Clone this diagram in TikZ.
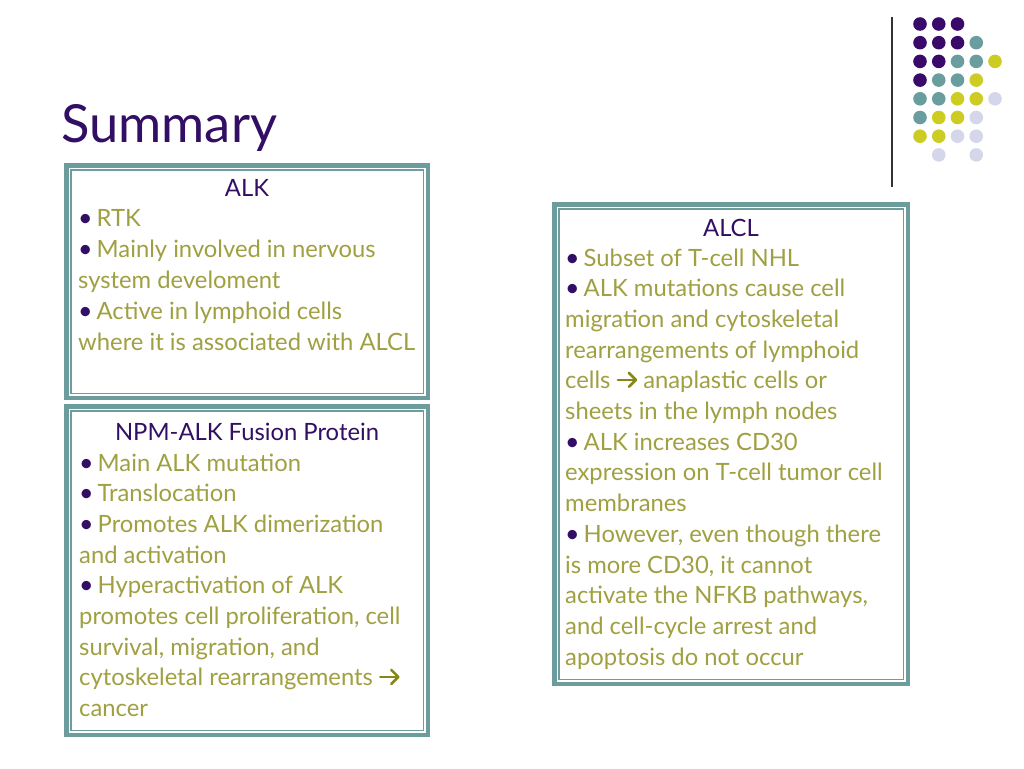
\documentclass[tikz,border=0pt]{standalone}
\usepackage{fontspec}
\setmainfont{Lato}
\usepackage{tikz}
\usetikzlibrary{calc}

\definecolor{slidepurple}{RGB}{50,15,100}
\definecolor{slideteal}{RGB}{108,156,156}
\definecolor{slideolive}{RGB}{160,160,66}
\definecolor{arrowolive}{RGB}{135,135,20}
\definecolor{dotpurple}{RGB}{58,10,106}
\definecolor{dotteal}{RGB}{106,158,158}
\definecolor{dotyellow}{RGB}{204,204,34}
\definecolor{dotlilac}{RGB}{214,214,234}

\newcommand{\bul}{\textcolor{slidepurple}{\scalebox{1.05}{\textbullet}}\hspace{4pt}}
\newcommand{\arr}{\tikz[x=1pt,y=1pt,baseline=0pt,line width=2.6pt,arrowolive,line cap=round,line join=round]
  {\draw (1,9) -- (19,9); \draw (12,2) -- (19,9) -- (12,16);}}

\tikzset{
  panel/.style={draw=slideteal, line width=4.5pt, fill=white, anchor=north west, inner sep=0pt, outer sep=0pt},
  panelline/.style={draw=slideteal, line width=1.3pt},
  boxtitle/.style={anchor=base, inner sep=0pt, text=slidepurple, font=\fontsize{23.8}{28}\selectfont},
  boxline/.style={anchor=base west, inner sep=0pt, text=slideolive, font=\fontsize{23.8}{28}\selectfont}
}

\begin{document}
\begin{tikzpicture}[x=1pt,y=-1pt]
\useasboundingbox (0,0) rectangle (1024,768);

% title
\node[anchor=base west, inner sep=0pt, text=slidepurple, font=\fontsize{52.5}{60}\selectfont] (title) at (61,142) {Summary};

% corner dots
\draw[line width=1.2pt, black!80] (892,17) -- (892,187);
\foreach \row/\lst in {1/{1/dotpurple,2/dotpurple,3/dotpurple},
                       2/{1/dotpurple,2/dotpurple,3/dotpurple,4/dotteal},
                       3/{1/dotpurple,2/dotpurple,3/dotteal,4/dotteal,5/dotyellow},
                       4/{1/dotpurple,2/dotteal,3/dotteal,4/dotyellow},
                       5/{1/dotteal,2/dotteal,3/dotyellow,4/dotyellow,5/dotlilac},
                       6/{1/dotteal,2/dotyellow,3/dotyellow,4/dotlilac},
                       7/{1/dotyellow,2/dotyellow,3/dotlilac,4/dotlilac},
                       8/{2/dotlilac,4/dotlilac}}
  \foreach \col/\c in \lst
    \fill[\c] ({920+18.75*(\col-1)},{24+18.7*(\row-1)}) circle (6.8);

% boxes
\node[panel, minimum width=361.5pt, minimum height=232.5pt] (alk) at (66.25,165.25) {};
\node[panel, minimum width=361.5pt, minimum height=328.5pt] (npm) at (66.25,406.25) {};
\node[panel, minimum width=353.5pt, minimum height=479.5pt] (alcl) at (554.25,204.25) {};
\foreach \b in {alk,npm,alcl}
  \draw[panelline] ([shift={(4.6,4.6)}]\b.north west) rectangle ([shift={(-4.6,-4.6)}]\b.south east);

% ALK
\node[boxtitle] (alkT) at (247,196) {ALK};
\foreach \t [count=\i] in {{\bul RTK},
    {\bul Mainly involved in nervous},
    {system develoment},
    {\bul Active in lymphoid cells},
    {where it is associated with ALCL}}
  \node[boxline] (alk-\i) at (78,{226+31*(\i-1)}) {\t};

% NPM-ALK
\node[boxtitle] (npmT) at (247,440) {NPM-ALK Fusion Protein};
\foreach \t [count=\i] in {{\bul Main ALK mutation},
    {\bul Translocation},
    {\bul Promotes ALK dimerization},
    {and activation},
    {\bul Hyperactivation of ALK},
    {promotes cell proliferation, cell},
    {survival, migration, and},
    {cytoskeletal rearrangements \arr},
    {cancer}}
  \node[boxline] (npm-\i) at (79,{471+30.7*(\i-1)}) {\t};

% ALCL
\node[boxtitle] (alclT) at (731,236) {ALCL};
\foreach \t [count=\i] in {{\bul Subset of T-cell NHL},
    {\bul ALK mutations cause cell},
    {migration and cytoskeletal},
    {rearrangements of lymphoid},
    {cells \arr{} anaplastic cells or},
    {sheets in the lymph nodes},
    {\bul ALK increases CD30},
    {expression on T-cell tumor cell},
    {membranes},
    {\bul However, even though there},
    {is more CD30, it cannot},
    {activate the NFKB pathways,},
    {and cell-cycle arrest and},
    {apoptosis do not occur}}
  \node[boxline] (alcl-\i) at (565,{266+30.7*(\i-1)}) {\t};
\end{tikzpicture}
\end{document}
